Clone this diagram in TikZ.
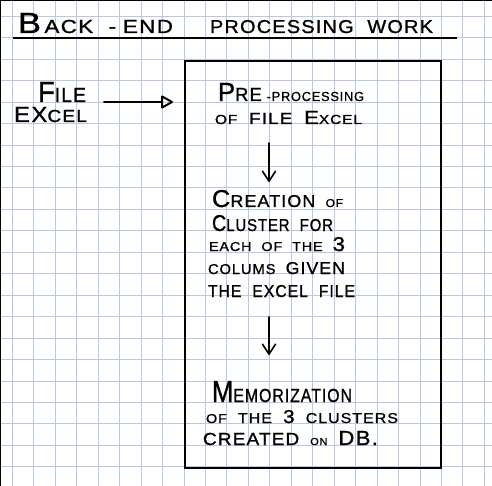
\documentclass[tikz,border=0pt]{standalone}
\usepackage{fontspec}
\usepackage{graphicx}
\setmainfont{Liberation Sans}
\usetikzlibrary{arrows.meta}
\definecolor{gridblue}{RGB}{184,199,226}
\newcommand\fs[1]{\fontsize{#1}{#1}\selectfont}
\newcommand\hw[3]{\resizebox{#1pt}{#2pt}{\addfontfeature{LetterSpace=6,FakeBold=1}#3}}
\newcommand\gap{\ \hspace{.35em}}
\tikzset{
  gridline/.style={draw=gridblue, line width=0.9pt},
  hand/.style={anchor=base west, inner sep=0pt, outer sep=0pt, text=black},
  harrow/.style={line width=2pt, line cap=round, -{Triangle[open, round, length=13pt, width=14pt]}},
  varrow/.style={line width=1.6pt, line cap=round, -{Straight Barb[round, length=10pt, width=13pt]}},
  bigbox/.style={draw, line width=2pt, minimum width=256pt, minimum height=407pt, anchor=north west, inner sep=0pt}
}
\begin{document}
\begin{tikzpicture}[x=1pt, y=-1pt]
\useasboundingbox (0,0) rectangle (492,486);
\fill[white] (0,0) rectangle (492,486);
% grid paper
\foreach \i in {0,...,22} \draw[gridline] (12.4+21.45*\i,0) -- (12.4+21.45*\i,486);
\foreach \j in {0,...,21} \draw[gridline] (0,16.3+21.45*\j) -- (492,16.3+21.45*\j);
% page borders
\draw[line width=1.4pt] (0,0.7) -- (492,0.7);
\draw[line width=1.2pt] (0.6,0) -- (0.6,486);
% title
\node[hand] (t1) at (18,33) {\hw{155}{20}{{\fs{20}B}{\fs{13}\hspace{.15em}ACK\gap-\hspace{.3em}END}}};
\node[hand] (t2) at (210,33) {\hw{223}{13}{{\fs{13}PROCESSING\gap WORK}}};
\draw[line width=2.5pt] (13,38) -- (457,38);
% input
\node[hand] (file) at (38,102) {\hw{48}{20}{{\fs{20}F}{\fs{14}ILE}}};
\node[hand] (excel) at (14,122) {\hw{73}{15}{{\fs{15}EX}{\fs{12}CEL}}};
% box
\node[bigbox] (box) at (184,60) {};
% texts inside box
\node[hand] (p1) at (218,101) {\hw{146}{18}{{\fs{18}P}{\fs{13}RE}\ {\fs{9}-PROCESSING}}};
\node[hand] (p2) at (215,124) {\hw{147}{13}{{\fs{9}OF}\gap{\fs{11}FILE}\gap{\fs{13}E}{\fs{9}XCEL}}};
\node[hand] (c1) at (212,207) {\hw{131}{17}{{\fs{17}C}{\fs{12}REATION}\gap{\fs{8}OF}}};
\node[hand] (c2) at (212,231) {\hw{121}{16}{{\fs{16}C}{\fs{12}LUSTER\gap FOR}}};
\node[hand] (c3) at (209,251) {\hw{136}{14}{{\fs{9}EACH\gap OF\gap THE\gap}{\fs{14}3}}};
\node[hand] (c4) at (208,274) {\hw{137}{12}{{\fs{10}COLUMS}\gap{\fs{12}GIVEN}}};
\node[hand] (c5) at (208,297) {\hw{147}{12}{{\fs{12}THE\gap EXCEL\gap FILE}}};
\node[hand] (m1) at (212,402) {\hw{140}{21}{{\fs{21}M}{\fs{13}EMORIZATION}}};
\node[hand] (m2) at (206,423) {\hw{192}{13}{{\fs{9}OF}\gap{\fs{10}THE}\gap{\fs{13}3}\gap{\fs{10}CLUSTERS}}};
\node[hand] (m3) at (203,445) {\hw{175}{14}{{\fs{12}CREATED}\gap{\fs{7}ON}\gap{\fs{14}DB.}}};
% connectors
\coordinate (ha) at ([xshift=18pt]file.base east);
\draw[harrow, shorten >=11pt] (ha) -- (ha -| box.west);
\coordinate (v1a) at (269,143);
\coordinate (v1b) at (269,182);
\coordinate (v2a) at (269,317);
\coordinate (v2b) at (269,355);
\draw[varrow] (v1a) -- (v1b);
\draw[varrow] (v2a) -- (v2b);
\end{tikzpicture}
\end{document}
